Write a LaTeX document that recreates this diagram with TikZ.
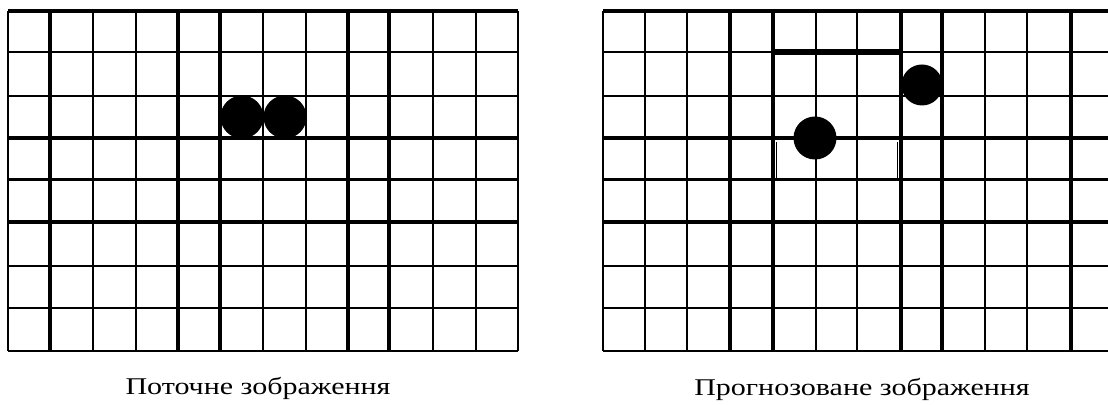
\documentclass[tikz,border=0pt]{standalone}
\usepackage{fontspec}
\setmainfont{Liberation Serif}
\begin{document}
\begin{tikzpicture}[x=0.5pt,y=-0.5pt,
  ball/.style={fill=black},
  caption/.style={anchor=base,inner sep=0pt,font=\fontsize{12}{14}\selectfont}]
\useasboundingbox (0,0) rectangle (1108,405);
\fill[white] (0,0) rectangle (1108,405);
% left grid
\foreach \x/\w in {8/1.2,50/1.9,93/1.0,136/1.0,178/1.8,220/1.8,263/1.0,306/1.0,348/1.8,389/1.8,433/1.0,476/1.0,518/1.2}
  \draw[line width=\w pt] (\x,11) -- (\x,351);
\foreach \y/\w in {11/1.9,52/1.0,96/1.0,138/1.7,180/1.5,222/1.7,266/1.0,308/1.0,351/1.2}
  \draw[line width=\w pt] (8,\y) -- (518,\y);
\fill[ball] (242,117) circle (21.5);
\fill[ball] (285,117) circle (21.5);
% right grid
\foreach \x/\w in {603/1.2,645/1.3,687/1.0,730/1.8,773/1.9,816/1.0,857/1.0,901/1.9,942/1.7,985/1.0,1027/1.0,1071/1.8}
  \draw[line width=\w pt] (\x,11) -- (\x,351);
\foreach \y/\w in {11/1.9,52/1.0,96/1.0,138/1.7,180/1.5,222/1.7,266/1.0,308/1.0,351/1.2}
  \draw[line width=\w pt] (603,\y) -- (1108,\y);
\draw[line width=2.6pt] (773,52) -- (901,52);
\draw[line width=0.4pt] (776,142) -- (776,178);
\draw[line width=0.4pt] (897,142) -- (897,178);
\fill[ball] (815,138) circle (21.5);
\fill[ball] (922,85) circle (20.5);
% captions
\node[caption] (lblA) at (258,395) {\scalebox{1.25}[1]{Поточне зображення}};
\node[caption] (lblB) at (862,396) {\scalebox{1.25}[1]{Прогнозоване зображення}};
\end{tikzpicture}
\end{document}
